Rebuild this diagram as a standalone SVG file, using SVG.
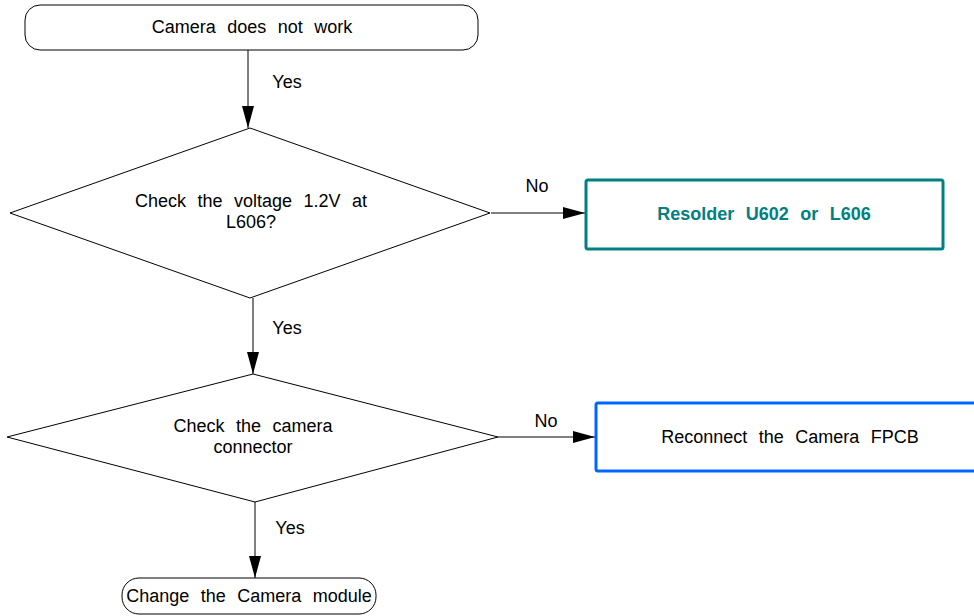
<svg xmlns="http://www.w3.org/2000/svg" width="974" height="616" viewBox="0 0 974 616">
<style>
text{font-family:"Liberation Sans",Arial,sans-serif;font-size:18px;fill:#000;text-anchor:middle;word-spacing:6.5px}
.shape{fill:#fff;stroke:#000;stroke-width:1}
.line{stroke:#000;stroke-width:1;fill:none}
.lbl{text-anchor:middle;word-spacing:0}
</style>
<defs>
<marker id="ahh" markerWidth="22" markerHeight="12" refX="22" refY="6" orient="0" markerUnits="userSpaceOnUse" viewBox="0 0 22 12">
<path d="M0,0 L22,6 L0,12 Z" fill="#000"/>
</marker>
<marker id="ahv" markerWidth="12" markerHeight="22" refX="6" refY="22" orient="0" markerUnits="userSpaceOnUse" viewBox="0 0 12 22">
<path d="M0,0 L12,0 L6,22 Z" fill="#000"/>
</marker>
</defs>
<g id="connectors">
<line class="line" x1="248" y1="50" x2="248" y2="128" marker-end="url(#ahv)"/>
<text class="lbl" x="287" y="88">Yes</text>
<line class="line" x1="491" y1="213" x2="585" y2="213" marker-end="url(#ahh)"/>
<text class="lbl" x="537" y="192">No</text>
<line class="line" x1="253" y1="298" x2="253" y2="374" marker-end="url(#ahv)"/>
<text class="lbl" x="287" y="334">Yes</text>
<line class="line" x1="498" y1="437" x2="595" y2="437" marker-end="url(#ahh)"/>
<text class="lbl" x="546" y="427">No</text>
<line class="line" x1="255" y1="501" x2="255" y2="578" marker-end="url(#ahv)"/>
<text class="lbl" x="290" y="534">Yes</text>
</g>
<g id="start">
<rect class="shape" x="25" y="5" width="453" height="45" rx="15" ry="15"/>
<text x="252" y="33">Camera does not work</text>
</g>
<g id="check-voltage">
<polygon class="shape" points="250,128 490,213 250,298 10,213"/>
<text x="251" y="207">Check the voltage 1.2V at</text>
<text x="251" y="228">L606?</text>
</g>
<g id="resolder">
<rect x="586" y="180" width="357" height="69" rx="2" fill="#fff" stroke="#008080" stroke-width="3"/>
<text x="764" y="220" font-weight="bold" style="fill:#008080">Resolder U602 or L606</text>
</g>
<g id="check-connector">
<polygon class="shape" points="253,374 498,437 255,502 7,437"/>
<text x="253" y="432">Check the camera</text>
<text x="253" y="453">connector</text>
</g>
<g id="reconnect">
<rect x="596" y="403" width="390" height="68" rx="2" fill="#fff" stroke="#0066ff" stroke-width="3"/>
<text x="790" y="443">Reconnect the Camera FPCB</text>
</g>
<g id="change-module">
<rect class="shape" x="122" y="578" width="254" height="36" rx="17" ry="17"/>
<text x="249" y="602">Change the Camera module</text>
</g>
</svg>
